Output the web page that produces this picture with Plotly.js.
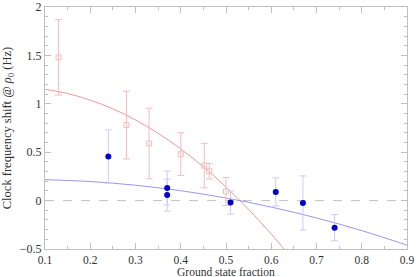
<!DOCTYPE html>
<html>
<head>
<meta charset="utf-8">
<script src="https://cdn.plot.ly/plotly-3.0.1.min.js"></script>
<style>html,body{margin:0;padding:0;background:#fff;}#chart{width:416px;height:277px;}</style>
</head>
<body>
<div id="chart"></div>
<script>
// Blue series (filled circles)
const blueX = [0.24, 0.37, 0.37, 0.51, 0.61, 0.67, 0.74];
const blueY = [0.455, 0.13, 0.057, -0.02, 0.09, -0.025, -0.28];
const blueErr = [0.275, 0.175, 0.165, 0.12, 0.145, 0.28, 0.135];

// Red series (open squares)
const redX = [0.13, 0.28, 0.33, 0.40, 0.452, 0.463, 0.50];
const redY = [1.48, 0.78, 0.59, 0.48, 0.362, 0.304, 0.095];
const redErr = [0.39, 0.35, 0.365, 0.22, 0.23, 0.08, 0.145];

// Fit curves
const redFitX = [0.10, 0.15, 0.20, 0.25, 0.30, 0.35, 0.40, 0.45, 0.50, 0.55, 0.60, 0.63];
const redFitY = [1.15, 1.106, 1.038, 0.948, 0.833, 0.695, 0.534, 0.349, 0.141, -0.091, -0.346, -0.51];
const blueFitX = [0.1, 0.2, 0.3, 0.4, 0.5, 0.6, 0.7, 0.8, 0.9];
const blueFitY = [0.216, 0.197, 0.159, 0.102, 0.027, -0.067, -0.179, -0.310, -0.46];

const xTickVals = [0.1, 0.2, 0.3, 0.4, 0.5, 0.6, 0.7, 0.8, 0.9];
const yTickVals = [-0.5, 0, 0.5, 1, 1.5, 2];
const yTickText = ['\u22120.5', '0', '0.5', '1', '1.5', '2'];
const xTitle = 'Ground state fraction';
const yTitle = 'Clock frequency shift @ <i>\u03c1</i><sub>0</sub> (Hz)';

const FONT = 'Liberation Serif, DejaVu Serif, serif';
const redLight = 'rgb(246,188,188)';
const redLine = 'rgb(236,140,140)';
const blueLight = 'rgb(204,204,242)';
const blueLine = 'rgb(140,140,228)';

const traces = [
  {x: redFitX, y: redFitY, type: 'scatter', mode: 'lines', line: {color: redLine, width: 0.9, shape: 'spline'}, hoverinfo: 'skip'},
  {x: blueFitX, y: blueFitY, type: 'scatter', mode: 'lines', line: {color: blueLine, width: 0.9, shape: 'spline'}, hoverinfo: 'skip'},
  {x: redX, y: redY, type: 'scatter', mode: 'markers',
   marker: {symbol: 'square-open', size: 5, color: redLight, line: {width: 1, color: redLight}},
   error_y: {type: 'data', array: redErr, visible: true, color: redLight, thickness: 1, width: 3.5}},
  {x: blueX, y: blueY, type: 'scatter', mode: 'markers',
   marker: {symbol: 'circle', size: 6, color: 'rgb(0,0,200)'},
   error_y: {type: 'data', array: blueErr, visible: true, color: blueLight, thickness: 1, width: 3.5}}
];

const axisCommon = {
  showgrid: false, zeroline: false, showline: true, linecolor: '#c0c0c0', linewidth: 1,
  mirror: 'ticks', ticks: 'inside', ticklen: 6, tickcolor: '#c0c0c0', tickwidth: 1,
  tickfont: {family: FONT, size: 12, color: '#333'}, automargin: false
};

const layout = {
  width: 416, height: 277,
  margin: {l: 45, r: 9, t: 7, b: 28},
  paper_bgcolor: '#fff', plot_bgcolor: '#fff',
  showlegend: false,
  font: {family: FONT, size: 12, color: '#333'},
  xaxis: Object.assign({}, axisCommon, {
    range: [0.1, 0.9], tickvals: xTickVals, ticktext: xTickVals.map(v => v.toFixed(1)),
    tickfont: {family: FONT, size: 11.5, color: '#333'},
    minor: {dtick: 0.05, tick0: 0.1, ticks: 'inside', ticklen: 3, tickcolor: '#c0c0c0', showgrid: false}
  }),
  yaxis: Object.assign({}, axisCommon, {
    range: [-0.5, 2], tickvals: yTickVals, ticktext: yTickText,
    minor: {dtick: 0.1, tick0: 0, ticks: 'inside', ticklen: 3, tickcolor: '#c0c0c0', showgrid: false},
    title: {text: yTitle, font: {family: FONT, size: 12.5, color: '#333'}, standoff: 6}
  }),
  annotations: [{text: xTitle, xref: 'paper', yref: 'paper', x: 0.5, y: 0, xanchor: 'center', yanchor: 'top',
                 yshift: -14.5, showarrow: false, font: {family: FONT, size: 11.5, color: '#333'}}],
  shapes: [{type: 'line', xref: 'paper', x0: 0, x1: 1, yref: 'y', y0: 0, y1: 0,
            line: {color: '#c0c0c0', width: 1, dash: 'dash'}, layer: 'below'}]
};

Plotly.newPlot('chart', traces, layout, {displayModeBar: false, staticPlot: true});
</script>
</body>
</html>
